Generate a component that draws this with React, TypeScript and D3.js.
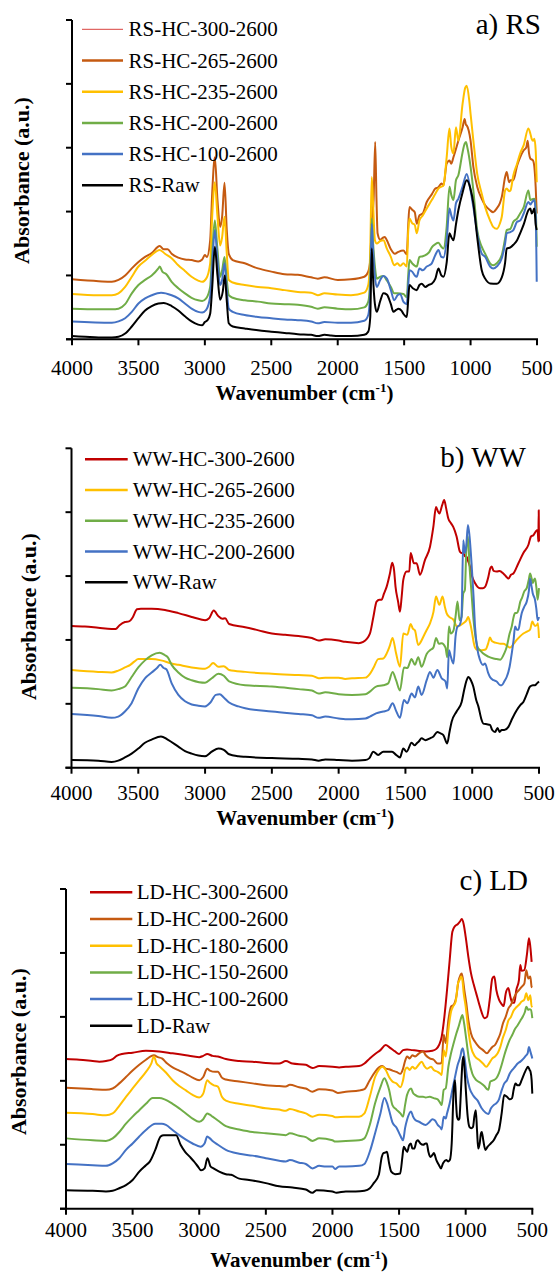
import React from "react";
import * as d3 from "d3";

// FTIR spectra of raw and hydrochar samples (absorbance in arbitrary units, offset per sample)
type Pt = [number, number];

// ---------- a) RS ----------
const rsHC300: Pt[] = [];
const rsHC265: Pt[] = [
  [4000,0.94],[3800,0.91],[3700,0.9],[3650,0.93],[3600,1.0],[3550,1.11],[3500,1.21],[3450,1.29],[3400,1.35],[3340,1.46],[3310,1.41],[3280,1.41],[3250,1.34],[3200,1.28],[3150,1.25],[3100,1.24],[3050,1.22],[3020,1.25],[3000,1.32],[2985,1.29],[2960,1.55],[2945,2.28],[2925,2.85],[2905,2.18],[2885,1.76],[2870,1.92],[2852,2.45],[2835,1.71],[2820,1.34],[2790,1.24],[2700,1.19],[2600,1.11],[2500,1.06],[2400,1.02],[2300,1.01],[2200,0.97],[2150,0.95],[2100,0.97],[2000,0.93],[1900,0.94],[1800,0.98],[1770,1.06],[1755,1.24],[1744,1.86],[1730,2.18],[1718,3.09],[1708,2.18],[1700,1.66],[1680,1.56],[1660,1.59],[1645,1.6],[1630,1.55],[1600,1.41],[1570,1.34],[1543,1.37],[1506,1.39],[1480,1.33],[1470,1.76],[1460,2.07],[1440,2.03],[1420,1.99],[1405,1.81],[1385,1.94],[1360,1.97],[1330,2.15],[1292,2.27],[1265,2.36],[1242,2.38],[1220,2.44],[1204,2.41],[1180,2.75],[1159,2.8],[1145,2.75],[1129,2.85],[1110,2.98],[1092,3.11],[1060,3.32],[1045,3.45],[1035,3.36],[1029,3.35],[1000,3.11],[979,2.7],[950,2.39],[916,2.2],[890,2.1],[853,2.02],[830,1.99],[803,2.05],[780,2.13],[765,2.23],[740,2.54],[728,2.62],[710,2.46],[700,2.49],[678,2.49],[650,2.72],[627,2.85],[600,2.96],[580,3.01],[570,3.11],[560,2.91],[550,2.83],[530,2.8],[520,2.7],[510,2.39],[502,1.97],
];
const rsHC235: Pt[] = [
  [4000,0.71],[3800,0.69],[3700,0.69],[3650,0.72],[3600,0.82],[3550,0.98],[3500,1.14],[3450,1.23],[3400,1.32],[3340,1.4],[3300,1.34],[3250,1.27],[3200,1.16],[3150,1.07],[3100,0.98],[3050,0.92],[3020,0.9],[2990,0.95],[2960,1.19],[2945,1.92],[2925,2.46],[2905,1.92],[2885,1.47],[2870,1.6],[2852,1.92],[2835,1.34],[2820,0.93],[2790,0.89],[2700,0.85],[2600,0.82],[2500,0.8],[2400,0.77],[2300,0.74],[2200,0.73],[2150,0.69],[2100,0.72],[2000,0.7],[1900,0.69],[1800,0.73],[1770,0.85],[1755,1.4],[1744,2.54],[1735,2.18],[1720,1.55],[1706,1.5],[1680,1.54],[1656,1.55],[1630,1.42],[1600,1.29],[1575,1.16],[1550,1.19],[1530,1.15],[1506,1.19],[1480,1.14],[1470,1.66],[1460,1.89],[1440,1.82],[1420,1.79],[1405,1.66],[1385,1.86],[1360,1.94],[1330,2.05],[1292,2.18],[1265,2.28],[1242,2.36],[1220,2.39],[1204,2.41],[1180,2.85],[1159,3.3],[1145,3.01],[1129,2.91],[1110,3.32],[1092,3.11],[1060,3.69],[1040,3.94],[1029,3.97],[1010,3.74],[1000,3.53],[979,3.11],[950,2.59],[916,2.28],[890,2.07],[853,1.86],[830,1.76],[803,1.73],[780,1.81],[765,1.92],[740,2.33],[728,2.36],[710,2.32],[700,2.33],[678,2.57],[650,2.75],[627,2.91],[600,3.04],[565,3.3],[550,3.22],[540,3.14],[530,3.11],[520,3.14],[510,2.96],[502,2.46],
];
const rsHC200: Pt[] = [
  [4000,0.48],[3800,0.47],[3700,0.47],[3650,0.48],[3600,0.55],[3550,0.72],[3500,0.85],[3450,0.93],[3400,1.0],[3350,1.11],[3340,1.14],[3320,1.06],[3290,1.02],[3250,0.9],[3200,0.8],[3150,0.72],[3100,0.65],[3050,0.61],[3020,0.6],[2990,0.64],[2960,0.82],[2945,1.34],[2925,1.86],[2905,1.4],[2885,0.98],[2870,1.08],[2852,1.29],[2835,0.93],[2820,0.69],[2790,0.65],[2700,0.61],[2600,0.59],[2500,0.56],[2400,0.55],[2300,0.54],[2200,0.51],[2150,0.48],[2100,0.5],[2000,0.48],[1900,0.47],[1800,0.5],[1770,0.59],[1755,0.98],[1744,1.89],[1735,1.55],[1720,1.14],[1706,0.95],[1680,0.98],[1656,0.99],[1630,0.92],[1600,0.82],[1575,0.72],[1550,0.72],[1506,0.71],[1480,0.66],[1470,0.98],[1460,1.24],[1440,1.19],[1405,1.14],[1385,1.29],[1360,1.3],[1330,1.33],[1310,1.37],[1292,1.44],[1265,1.49],[1242,1.51],[1220,1.45],[1204,1.42],[1180,1.76],[1159,2.39],[1145,2.26],[1129,2.18],[1110,2.49],[1092,2.57],[1060,2.93],[1045,3.06],[1035,3.09],[1025,3.01],[1000,2.7],[979,2.33],[950,1.71],[916,1.45],[890,1.34],[853,1.19],[830,1.16],[803,1.19],[765,1.32],[740,1.58],[728,1.71],[700,1.73],[678,1.84],[650,1.89],[627,1.97],[600,2.07],[565,2.33],[550,2.18],[540,2.19],[520,2.2],[510,2.07],[502,1.45],
];
const rsHC100: Pt[] = [
  [4000,0.28],[3700,0.26],[3650,0.28],[3600,0.33],[3550,0.43],[3500,0.56],[3450,0.64],[3400,0.69],[3330,0.73],[3250,0.69],[3200,0.64],[3150,0.56],[3100,0.48],[3050,0.43],[3020,0.42],[2990,0.46],[2960,0.67],[2945,1.14],[2925,1.71],[2905,1.24],[2885,0.85],[2870,0.93],[2852,1.19],[2835,0.77],[2820,0.48],[2790,0.43],[2700,0.38],[2600,0.35],[2500,0.33],[2400,0.31],[2300,0.3],[2200,0.28],[2150,0.25],[2100,0.27],[2000,0.26],[1900,0.26],[1800,0.29],[1770,0.38],[1755,0.77],[1744,1.81],[1735,1.45],[1720,0.98],[1706,0.82],[1680,0.93],[1656,0.99],[1630,0.95],[1600,0.77],[1575,0.61],[1550,0.69],[1530,0.71],[1506,0.59],[1480,0.55],[1470,0.82],[1460,1.08],[1440,1.06],[1420,1.0],[1405,0.98],[1385,1.11],[1360,1.08],[1330,1.14],[1310,1.16],[1292,1.19],[1265,1.32],[1242,1.4],[1220,1.29],[1204,1.28],[1180,1.55],[1159,2.05],[1145,1.94],[1129,1.86],[1110,2.13],[1092,2.2],[1060,2.39],[1029,2.59],[1000,2.33],[979,2.07],[950,1.66],[916,1.34],[890,1.29],[853,1.14],[830,1.11],[803,1.14],[765,1.27],[740,1.5],[728,1.66],[700,1.68],[678,1.71],[650,1.84],[627,1.86],[600,1.97],[565,2.15],[550,2.11],[540,2.14],[520,2.18],[510,1.97],[502,0.9],
];
const rsRaw: Pt[] = [
  [4000,0.05],[3900,0.04],[3800,0.03],[3700,0.03],[3650,0.04],[3600,0.09],[3550,0.2],[3500,0.33],[3450,0.45],[3400,0.52],[3350,0.56],[3310,0.57],[3250,0.52],[3200,0.45],[3150,0.36],[3100,0.28],[3050,0.23],[3020,0.22],[3000,0.27],[2980,0.3],[2960,0.4],[2945,0.8],[2925,1.45],[2905,1.0],[2885,0.62],[2865,0.75],[2850,1.0],[2835,0.6],[2820,0.25],[2790,0.2],[2700,0.17],[2600,0.14],[2500,0.12],[2400,0.1],[2300,0.08],[2200,0.07],[2150,0.05],[2100,0.07],[2050,0.06],[2000,0.05],[1900,0.05],[1800,0.07],[1770,0.12],[1755,0.35],[1744,1.42],[1735,1.0],[1720,0.55],[1706,0.43],[1680,0.6],[1656,0.72],[1630,0.7],[1600,0.55],[1581,0.43],[1560,0.46],[1543,0.48],[1520,0.45],[1506,0.4],[1480,0.35],[1470,0.6],[1460,0.85],[1435,0.8],[1405,0.77],[1385,0.85],[1368,0.87],[1340,0.82],[1317,0.85],[1292,0.87],[1265,0.95],[1242,1.11],[1220,1.0],[1204,0.98],[1180,1.2],[1159,1.66],[1145,1.6],[1129,1.55],[1110,1.8],[1092,2.02],[1060,2.3],[1029,2.49],[1000,2.35],[979,2.13],[950,1.6],[916,1.08],[890,0.95],[853,0.875],[803,0.87],[765,0.97],[740,1.2],[728,1.42],[700,1.44],[678,1.48],[650,1.55],[627,1.66],[600,1.8],[565,2.02],[550,2.05],[540,1.97],[530,2.0],[520,2.05],[510,1.8],[502,1.71],
];

// ---------- b) WW ----------
const wwHC300: Pt[] = [
  [4000,2.22],[3900,2.21],[3800,2.19],[3700,2.17],[3670,2.17],[3640,2.23],[3600,2.28],[3570,2.29],[3540,2.36],[3510,2.48],[3480,2.49],[3400,2.49],[3300,2.47],[3200,2.42],[3100,2.36],[3030,2.32],[3000,2.31],[2970,2.34],[2935,2.46],[2900,2.37],[2870,2.33],[2850,2.34],[2820,2.25],[2700,2.2],[2600,2.15],[2500,2.1],[2400,2.08],[2300,2.06],[2200,2.03],[2150,1.99],[2100,2.01],[2000,1.99],[1950,1.97],[1900,1.96],[1850,1.95],[1816,1.97],[1766,2.1],[1740,2.36],[1716,2.6],[1695,2.63],[1679,2.63],[1660,2.73],[1641,2.83],[1616,3.04],[1599,3.21],[1585,3.09],[1574,2.83],[1555,2.6],[1541,2.44],[1528,2.68],[1516,2.94],[1491,3.07],[1471,3.07],[1461,3.36],[1436,3.2],[1416,3.2],[1391,3.02],[1354,3.25],[1316,3.46],[1291,3.77],[1271,4.08],[1256,4.01],[1246,3.98],[1225,4.11],[1210,4.19],[1195,4.06],[1179,3.9],[1160,3.83],[1142,3.77],[1117,3.62],[1092,3.38],[1080,3.36],[1067,3.36],[1055,3.31],[1042,3.3],[1030,3.23],[1017,3.15],[1000,2.99],[979,2.89],[960,2.83],[942,2.81],[920,2.81],[904,2.83],[879,2.99],[865,3.12],[854,3.15],[840,3.08],[817,3.07],[795,3.08],[767,3.04],[745,2.99],[729,2.96],[710,3.02],[692,3.04],[654,3.2],[617,3.36],[579,3.49],[560,3.62],[542,3.64],[520,3.71],[510,3.72],[505,3.54],[502,4.03],[500,3.54],
];
const wwHC265: Pt[] = [
  [4000,1.53],[3800,1.5],[3700,1.49],[3650,1.52],[3600,1.57],[3560,1.61],[3530,1.66],[3500,1.7],[3400,1.7],[3330,1.68],[3250,1.63],[3200,1.61],[3100,1.57],[3000,1.55],[2970,1.58],[2940,1.64],[2900,1.58],[2860,1.59],[2820,1.53],[2700,1.5],[2500,1.47],[2300,1.45],[2200,1.44],[2150,1.4],[2100,1.41],[2000,1.41],[1950,1.39],[1900,1.4],[1800,1.41],[1766,1.47],[1740,1.56],[1704,1.7],[1666,1.71],[1640,1.79],[1620,1.89],[1596,2.03],[1570,1.79],[1541,1.58],[1516,2.1],[1486,2.08],[1461,2.25],[1445,2.18],[1429,2.15],[1404,1.92],[1385,1.97],[1366,2.05],[1340,2.16],[1316,2.26],[1290,2.44],[1271,2.68],[1246,2.55],[1222,2.68],[1205,2.52],[1192,2.42],[1172,2.36],[1142,2.32],[1112,2.21],[1090,2.23],[1067,2.26],[1042,2.31],[1030,2.36],[1015,2.26],[1000,2.1],[990,1.97],[979,1.88],[960,1.84],[929,1.84],[900,1.85],[880,1.95],[867,2.04],[855,1.99],[842,1.97],[810,1.95],[790,1.94],[767,1.94],[740,1.91],[717,1.88],[690,1.94],[667,2.0],[640,2.06],[617,2.1],[590,2.13],[567,2.16],[550,2.29],[540,2.25],[530,2.22],[517,2.23],[508,2.26],[500,2.03],
];
const wwHC235: Pt[] = [
  [4000,1.25],[3800,1.23],[3700,1.21],[3650,1.23],[3600,1.27],[3550,1.42],[3500,1.57],[3450,1.68],[3400,1.76],[3340,1.8],[3300,1.76],[3280,1.73],[3250,1.61],[3200,1.49],[3150,1.41],[3100,1.37],[3000,1.33],[2950,1.4],[2900,1.47],[2860,1.44],[2820,1.35],[2700,1.29],[2500,1.27],[2300,1.23],[2200,1.21],[2150,1.16],[2100,1.18],[2000,1.15],[1900,1.14],[1800,1.15],[1766,1.19],[1720,1.27],[1666,1.29],[1629,1.32],[1596,1.5],[1570,1.37],[1541,1.21],[1511,1.57],[1486,1.56],[1454,1.7],[1429,1.61],[1404,1.73],[1379,1.58],[1341,1.78],[1316,1.84],[1291,1.88],[1270,2.03],[1250,1.94],[1229,1.95],[1200,1.88],[1187,1.73],[1174,2.21],[1160,2.1],[1140,2.15],[1125,2.36],[1110,2.6],[1095,2.31],[1080,2.36],[1067,2.73],[1055,2.78],[1045,3.36],[1032,3.62],[1020,3.15],[1005,2.73],[990,2.31],[979,2.1],[960,1.89],[942,1.84],[920,1.79],[880,1.74],[840,1.71],[817,1.7],[790,1.69],[760,1.79],[742,1.89],[720,2.1],[704,2.21],[690,2.36],[679,2.42],[665,2.42],[654,2.47],[640,2.6],[629,2.65],[610,2.76],[592,2.81],[575,2.96],[567,3.04],[555,2.96],[547,2.89],[538,2.94],[530,2.96],[520,2.83],[510,2.63],[500,2.81],
];
const wwHC200: Pt[] = [
  [4000,0.84],[3800,0.81],[3700,0.78],[3650,0.8],[3600,0.88],[3550,1.01],[3500,1.24],[3450,1.4],[3400,1.49],[3360,1.56],[3335,1.61],[3310,1.56],[3290,1.54],[3250,1.32],[3200,1.14],[3150,1.04],[3100,0.99],[3050,0.97],[3000,0.96],[2960,1.02],[2920,1.14],[2890,1.15],[2860,1.1],[2820,1.02],[2750,0.96],[2700,0.93],[2500,0.88],[2300,0.84],[2200,0.82],[2150,0.78],[2100,0.8],[2000,0.77],[1950,0.76],[1900,0.76],[1800,0.77],[1766,0.8],[1720,0.85],[1666,0.88],[1629,0.9],[1596,1.01],[1570,0.89],[1541,0.78],[1511,1.06],[1486,1.01],[1454,1.16],[1429,1.1],[1404,1.27],[1379,1.14],[1341,1.37],[1316,1.5],[1291,1.41],[1261,1.53],[1229,1.4],[1200,1.35],[1187,1.24],[1174,1.84],[1160,1.74],[1140,1.63],[1125,2.05],[1110,2.21],[1095,2.23],[1080,2.36],[1067,3.56],[1055,3.36],[1045,3.46],[1032,3.8],[1020,3.62],[1005,3.2],[990,2.68],[979,2.21],[960,1.84],[942,1.69],[920,1.61],[904,1.63],[880,1.48],[867,1.42],[840,1.37],[817,1.35],[790,1.29],[779,1.29],[760,1.35],[742,1.42],[720,1.58],[704,1.79],[690,2.0],[679,2.21],[665,2.16],[654,2.16],[640,2.31],[629,2.42],[610,2.52],[592,2.6],[575,2.78],[567,2.96],[555,2.83],[547,2.73],[530,2.63],[520,2.49],[510,2.31],[500,2.36],
];
const wwRaw: Pt[] = [
  [4000,0.12],[3800,0.11],[3700,0.09],[3650,0.11],[3600,0.16],[3550,0.22],[3500,0.3],[3450,0.39],[3400,0.44],[3330,0.49],[3280,0.44],[3200,0.33],[3150,0.26],[3100,0.22],[3050,0.19],[3000,0.18],[2950,0.25],[2900,0.3],[2860,0.28],[2820,0.21],[2750,0.18],[2700,0.17],[2500,0.15],[2300,0.14],[2200,0.13],[2150,0.11],[2100,0.13],[2000,0.12],[1900,0.11],[1800,0.12],[1770,0.15],[1741,0.25],[1704,0.2],[1666,0.25],[1600,0.25],[1570,0.2],[1541,0.16],[1516,0.3],[1491,0.25],[1454,0.39],[1430,0.35],[1416,0.38],[1400,0.41],[1379,0.46],[1350,0.43],[1316,0.46],[1290,0.49],[1261,0.56],[1240,0.54],[1216,0.51],[1187,0.38],[1170,0.56],[1154,0.72],[1117,0.88],[1079,1.03],[1060,1.22],[1045,1.35],[1029,1.42],[1010,1.37],[992,1.27],[970,1.06],[954,0.96],[930,0.75],[917,0.69],[890,0.68],[867,0.67],[850,0.59],[829,0.56],[810,0.62],[795,0.56],[779,0.59],[760,0.59],[729,0.64],[700,0.77],[667,0.9],[640,0.98],[617,1.03],[590,1.16],[567,1.27],[545,1.29],[530,1.29],[515,1.32],[500,1.35],
];

// ---------- c) LD ----------
const ldHC300: Pt[] = [
  [4000,2.34],[3900,2.33],[3800,2.31],[3750,2.3],[3700,2.31],[3650,2.34],[3620,2.39],[3580,2.42],[3500,2.44],[3400,2.47],[3300,2.46],[3200,2.43],[3100,2.4],[3000,2.37],[2970,2.39],[2940,2.42],[2900,2.39],[2860,2.38],[2800,2.34],[2700,2.31],[2600,2.3],[2500,2.28],[2400,2.27],[2350,2.31],[2300,2.27],[2200,2.25],[2150,2.2],[2100,2.23],[2000,2.22],[1950,2.21],[1900,2.22],[1800,2.23],[1760,2.27],[1720,2.35],[1680,2.42],[1640,2.48],[1600,2.56],[1570,2.52],[1530,2.46],[1500,2.42],[1470,2.48],[1440,2.49],[1400,2.48],[1360,2.47],[1300,2.46],[1250,2.47],[1220,2.5],[1200,2.56],[1180,2.69],[1160,3.0],[1140,3.42],[1120,3.89],[1100,4.33],[1080,4.42],[1060,4.45],[1040,4.5],[1030,4.53],[1015,4.45],[1000,4.25],[980,3.94],[960,3.68],[940,3.51],[920,3.36],[900,3.21],[880,3.07],[860,2.98],[840,3.0],[820,3.26],[800,3.6],[785,3.63],[770,3.42],[750,3.27],[730,3.2],[715,3.17],[700,3.36],[680,3.45],[665,3.32],[650,3.22],[635,3.22],[620,3.42],[600,3.58],[590,3.81],[580,3.72],[560,3.73],[540,3.98],[525,4.23],[515,4.1],[505,3.86],
];
const ldHC200: Pt[] = [
  [4000,1.89],[3800,1.87],[3700,1.86],[3650,1.88],[3600,1.96],[3550,2.06],[3500,2.16],[3450,2.25],[3400,2.33],[3340,2.4],[3310,2.37],[3280,2.35],[3240,2.27],[3200,2.21],[3150,2.16],[3100,2.11],[3050,2.05],[3000,2.01],[2970,2.06],[2940,2.19],[2920,2.16],[2880,2.14],[2860,2.14],[2830,2.05],[2800,2.02],[2700,1.99],[2600,1.96],[2500,1.93],[2400,1.92],[2350,1.91],[2320,1.94],[2250,1.9],[2200,1.88],[2150,1.83],[2100,1.87],[2000,1.85],[1960,1.81],[1900,1.83],[1800,1.85],[1760,1.87],[1720,2.01],[1680,2.14],[1650,2.21],[1625,2.23],[1600,2.19],[1575,2.18],[1550,2.16],[1520,2.14],[1490,2.11],[1470,2.19],[1455,2.31],[1440,2.38],[1420,2.35],[1400,2.4],[1380,2.38],[1350,2.43],[1320,2.46],[1300,2.4],[1270,2.35],[1240,2.33],[1210,2.27],[1190,2.27],[1180,2.29],[1165,2.72],[1150,2.59],[1130,2.95],[1110,3.16],[1090,3.19],[1070,3.32],[1055,3.55],[1040,3.65],[1030,3.68],[1020,3.58],[1010,3.42],[995,3.21],[980,2.95],[960,2.74],[930,2.61],[900,2.53],[870,2.48],[840,2.43],[820,2.48],[800,2.53],[780,2.56],[760,2.64],[740,2.74],[720,2.9],[700,3.0],[680,3.13],[660,3.19],[640,3.29],[620,3.37],[600,3.42],[580,3.47],[560,3.52],[545,3.73],[530,3.6],[515,3.63],[505,3.47],[500,3.46],
];
const ldHC180: Pt[] = [
  [4000,1.5],[3800,1.48],[3700,1.46],[3650,1.49],[3600,1.61],[3550,1.75],[3500,1.88],[3450,2.01],[3400,2.14],[3360,2.27],[3340,2.38],[3320,2.27],[3300,2.23],[3250,2.13],[3200,2.01],[3150,1.92],[3100,1.85],[3050,1.78],[3000,1.74],[2970,1.8],[2940,2.01],[2920,1.97],[2890,1.93],[2860,1.91],[2830,1.75],[2800,1.69],[2700,1.64],[2600,1.61],[2500,1.57],[2400,1.55],[2350,1.53],[2320,1.56],[2250,1.52],[2200,1.49],[2150,1.44],[2100,1.47],[2000,1.45],[1980,1.43],[1900,1.44],[1800,1.44],[1760,1.49],[1720,1.75],[1680,2.06],[1650,2.18],[1625,2.22],[1600,2.17],[1575,2.06],[1550,1.99],[1520,1.96],[1490,1.9],[1470,2.01],[1455,2.17],[1440,2.21],[1420,2.17],[1400,2.22],[1380,2.19],[1350,2.26],[1330,2.3],[1310,2.23],[1290,2.19],[1260,2.22],[1240,2.17],[1210,2.14],[1190,2.11],[1180,2.09],[1165,2.48],[1150,2.38],[1130,2.79],[1110,3.08],[1095,3.16],[1075,3.24],[1058,3.52],[1045,3.58],[1035,3.63],[1025,3.58],[1015,3.37],[1000,3.16],[980,2.79],[960,2.53],[930,2.38],[900,2.33],[870,2.27],[845,2.22],[825,2.27],[800,2.35],[780,2.38],[760,2.43],[740,2.53],[720,2.68],[700,2.79],[680,2.94],[660,3.0],[640,3.1],[620,3.15],[600,3.19],[580,3.24],[560,3.27],[545,3.37],[530,3.26],[515,3.34],[505,3.16],[500,3.17],
];
const ldHC150: Pt[] = [
  [4000,1.1],[3800,1.07],[3700,1.06],[3650,1.1],[3600,1.2],[3550,1.33],[3500,1.44],[3450,1.54],[3400,1.64],[3350,1.73],[3300,1.73],[3260,1.71],[3200,1.64],[3150,1.57],[3100,1.49],[3050,1.41],[3000,1.36],[2970,1.4],[2940,1.49],[2920,1.47],[2900,1.44],[2860,1.38],[2800,1.29],[2700,1.24],[2600,1.2],[2500,1.18],[2400,1.16],[2350,1.15],[2320,1.18],[2250,1.14],[2200,1.12],[2150,1.06],[2100,1.1],[2000,1.07],[1980,1.05],[1900,1.06],[1800,1.07],[1760,1.1],[1720,1.31],[1680,1.65],[1640,1.9],[1610,2.04],[1590,1.96],[1575,1.86],[1550,1.62],[1520,1.55],[1490,1.49],[1470,1.44],[1455,1.62],[1440,1.78],[1410,1.88],[1395,1.81],[1380,1.78],[1350,1.75],[1320,1.75],[1300,1.74],[1270,1.75],[1240,1.73],[1210,1.71],[1190,1.65],[1180,1.62],[1165,1.86],[1150,1.88],[1130,2.22],[1110,2.43],[1090,2.59],[1070,2.74],[1050,2.87],[1035,2.98],[1025,3.03],[1012,2.9],[995,2.64],[975,2.33],[950,2.11],[920,2.01],[890,1.97],[860,1.92],[840,1.87],[830,1.86],[815,1.99],[790,2.01],[770,2.04],[750,2.12],[730,2.25],[710,2.4],[690,2.53],[670,2.64],[650,2.72],[630,2.81],[610,2.87],[590,2.94],[570,3.01],[555,3.08],[545,3.16],[530,3.11],[520,3.12],[510,3.11],[500,2.98],
];
const ldHC100: Pt[] = [
  [4000,0.7],[3800,0.68],[3700,0.67],[3650,0.71],[3600,0.79],[3550,0.92],[3500,1.02],[3450,1.13],[3400,1.23],[3330,1.33],[3280,1.33],[3250,1.31],[3200,1.23],[3150,1.15],[3100,1.08],[3050,1.02],[2990,0.97],[2960,1.02],[2940,1.13],[2920,1.1],[2900,1.06],[2860,1.0],[2800,0.92],[2700,0.86],[2600,0.83],[2500,0.79],[2400,0.75],[2350,0.74],[2320,0.76],[2250,0.72],[2200,0.7],[2150,0.63],[2100,0.67],[2050,0.66],[2000,0.66],[1980,0.62],[1950,0.66],[1900,0.66],[1800,0.67],[1760,0.7],[1720,0.89],[1680,1.18],[1640,1.49],[1610,1.73],[1590,1.65],[1575,1.54],[1550,1.35],[1520,1.27],[1490,1.14],[1470,1.07],[1455,1.26],[1440,1.39],[1410,1.52],[1395,1.44],[1380,1.39],[1350,1.36],[1300,1.31],[1270,1.36],[1250,1.4],[1230,1.38],[1210,1.31],[1190,1.27],[1180,1.24],[1165,1.44],[1150,1.41],[1140,1.49],[1120,1.65],[1100,1.86],[1080,2.06],[1060,2.25],[1040,2.38],[1030,2.48],[1022,2.51],[1010,2.38],[990,2.06],[970,1.88],[940,1.76],[910,1.69],[880,1.57],[850,1.5],[830,1.48],[810,1.57],[790,1.62],[770,1.65],[750,1.71],[730,1.85],[710,1.96],[690,2.01],[670,2.11],[650,2.17],[630,2.22],[610,2.27],[590,2.3],[570,2.34],[550,2.39],[535,2.43],[525,2.53],[515,2.46],[505,2.39],[500,2.35],
];
const ldRaw: Pt[] = [
  [4000,0.29],[3800,0.28],[3700,0.27],[3650,0.28],[3600,0.32],[3550,0.37],[3500,0.45],[3450,0.58],[3400,0.68],[3370,0.74],[3330,0.92],[3290,1.13],[3266,1.15],[3220,1.15],[3173,1.15],[3140,1.0],[3106,0.89],[3070,0.81],[3040,0.74],[3010,0.66],[2986,0.6],[2960,0.63],[2938,0.79],[2915,0.66],[2893,0.63],[2850,0.58],[2800,0.54],[2760,0.53],[2700,0.47],[2626,0.45],[2500,0.4],[2400,0.35],[2300,0.33],[2200,0.3],[2150,0.25],[2120,0.29],[2050,0.28],[2000,0.27],[1970,0.25],[1900,0.27],[1826,0.27],[1760,0.28],[1719,0.32],[1690,0.4],[1652,0.53],[1630,0.81],[1618,0.87],[1600,0.88],[1591,0.89],[1575,0.71],[1559,0.58],[1530,0.54],[1492,0.55],[1475,0.81],[1465,0.97],[1450,0.92],[1439,0.89],[1425,0.99],[1412,1.02],[1400,0.94],[1386,0.94],[1370,1.05],[1359,1.07],[1340,1.02],[1319,1.0],[1300,1.02],[1292,1.02],[1280,0.89],[1265,0.81],[1250,0.84],[1239,0.87],[1220,0.76],[1200,0.68],[1186,0.63],[1170,0.71],[1146,0.76],[1130,0.74],[1119,0.76],[1105,1.02],[1090,1.86],[1080,2.01],[1072,1.65],[1065,1.44],[1055,1.39],[1047,1.41],[1040,1.65],[1033,1.96],[1025,2.27],[1017,2.38],[1008,2.17],[999,1.86],[985,1.44],[972,1.28],[958,1.26],[945,1.28],[935,1.44],[924,1.54],[915,1.23],[906,0.94],[895,1.02],[885,1.18],[879,1.2],[868,1.07],[852,0.92],[835,0.97],[812,1.02],[790,1.07],[770,1.15],[750,1.23],[730,1.49],[711,1.78],[690,1.75],[670,1.71],[652,1.73],[640,1.86],[626,1.96],[612,1.93],[599,1.93],[580,2.01],[559,2.12],[540,2.2],[532,2.22],[520,2.17],[513,2.14],[505,2.01],[500,1.8],
];

// Axis values
const xTickValues = [4000, 3500, 3000, 2500, 2000, 1500, 1000, 500];
const yTickValues = [0, 1, 2, 3, 4, 5];

const RED = "#C00000";
const ORANGE = "#C55A11";
const GOLD = "#FFC000";
const GREEN = "#70AD47";
const BLUE = "#4472C4";
const BLACK = "#000000";

interface Series { name: string; color: string; data: Pt[]; legendWidth?: number }

const seriesA: Series[] = [
  { name: "RS-HC-300-2600", color: "#D9423E", data: rsHC300, legendWidth: 1 },
  { name: "RS-HC-265-2600", color: ORANGE, data: rsHC265 },
  { name: "RS-HC-235-2600", color: GOLD, data: rsHC235 },
  { name: "RS-HC-200-2600", color: GREEN, data: rsHC200 },
  { name: "RS-HC-100-2600", color: BLUE, data: rsHC100 },
  { name: "RS-Raw", color: BLACK, data: rsRaw },
];
const seriesB: Series[] = [
  { name: "WW-HC-300-2600", color: RED, data: wwHC300 },
  { name: "WW-HC-265-2600", color: GOLD, data: wwHC265 },
  { name: "WW-HC-235-2600", color: GREEN, data: wwHC235 },
  { name: "WW-HC-200-2600", color: BLUE, data: wwHC200 },
  { name: "WW-Raw", color: BLACK, data: wwRaw },
];
const seriesC: Series[] = [
  { name: "LD-HC-300-2600", color: RED, data: ldHC300 },
  { name: "LD-HC-200-2600", color: ORANGE, data: ldHC200 },
  { name: "LD-HC-180-2600", color: GOLD, data: ldHC180 },
  { name: "LD-HC-150-2600", color: GREEN, data: ldHC150 },
  { name: "LD-HC-100-2600", color: BLUE, data: ldHC100 },
  { name: "LD-Raw", color: BLACK, data: ldRaw },
];

interface PanelLayout {
  title: string;
  series: Series[];
  x0: number; x1: number; yBottom: number; yTop: number;
  tickLabelY: number; axisTitleY: number;
  yTitleX: number; yTitleY: number;
  legLineX0: number; legLineX1: number; legTextX: number; legY0: number; legStep: number;
  labelX: number; labelY: number;
}

const panels: PanelLayout[] = [
  { title: "a) RS", series: seriesA, x0: 72, x1: 537, yBottom: 339.3, yTop: 20,
    tickLabelY: 375, axisTitleY: 400, yTitleX: 29, yTitleY: 180.5,
    legLineX0: 82, legLineX1: 123, legTextX: 128.5, legY0: 29.3, legStep: 31.2,
    labelX: 541, labelY: 34 },
  { title: "b) WW", series: seriesB, x0: 71.5, x1: 539, yBottom: 767.7, yTop: 448.3,
    tickLabelY: 800, axisTitleY: 825, yTitleX: 35.5, yTitleY: 616.7,
    legLineX0: 85, legLineX1: 127.7, legTextX: 132.7, legY0: 459.3, legStep: 30.75,
    labelX: 526, labelY: 467 },
  { title: "c) LD", series: seriesC, x0: 66, x1: 532.3, yBottom: 1208.7, yTop: 889,
    tickLabelY: 1236.7, axisTitleY: 1267, yTitleX: 25.5, yTitleY: 1051.7,
    legLineX0: 90, legLineX1: 132.3, legTextX: 136.7, legY0: 892.3, legStep: 26.7,
    labelX: 528, labelY: 890 },
];

const FONT = "'Liberation Serif', 'Times New Roman', Times, serif";

function Panel({ p }: { p: PanelLayout }) {
  const x = d3.scaleLinear().domain([4000, 500]).range([p.x0, p.x1]);
  const y = d3.scaleLinear().domain([0, 5]).range([p.yBottom, p.yTop]);
  const line = d3.line<Pt>()
    .x((d) => x(d[0]))
    .y((d) => y(d[1]))
    .curve(d3.curveMonotoneX);
  return (
    <g>
      {p.series.map((s) =>
        s.data.length ? (
          <path key={s.name} d={line(s.data) || ""} fill="none" stroke={s.color}
            strokeWidth={2} strokeLinejoin="round" />
        ) : null
      )}
      {/* y axis */}
      <line x1={p.x0} x2={p.x0} y1={y(5)} y2={y(0)} stroke="#000" strokeWidth={2} />
      {yTickValues.map((t) => (
        <line key={t} x1={p.x0 - 6} x2={p.x0} y1={y(t)} y2={y(t)} stroke="#000" strokeWidth={2} />
      ))}
      {/* x axis */}
      <line x1={p.x0 - 6} x2={p.x1 + 1} y1={p.yBottom} y2={p.yBottom} stroke="#000" strokeWidth={2} />
      {xTickValues.map((t) => (
        <g key={t}>
          <line x1={x(t)} x2={x(t)} y1={p.yBottom} y2={p.yBottom + 6} stroke="#000" strokeWidth={2} />
          <text x={x(t)} y={p.tickLabelY} textAnchor="middle" fontSize={21} fontFamily={FONT}>{t}</text>
        </g>
      ))}
      <text x={(p.x0 + p.x1) / 2} y={p.axisTitleY} textAnchor="middle" fontSize={21}
        fontWeight="bold" fontFamily={FONT}>
        Wavenumber (cm<tspan fontSize={13} dy={-8}>-1</tspan><tspan dy={8}>)</tspan>
      </text>
      <text transform={`translate(${p.yTitleX},${p.yTitleY}) rotate(-90)`} textAnchor="middle"
        fontSize={22} fontWeight="bold" fontFamily={FONT}>Absorbance (a.u.)</text>
      {/* legend */}
      {p.series.map((s, i) => {
        const cy = p.legY0 + i * p.legStep;
        return (
          <g key={s.name}>
            <line x1={p.legLineX0} x2={p.legLineX1} y1={cy} y2={cy} stroke={s.color}
              strokeWidth={s.legendWidth ?? 2.5} />
            <text x={p.legTextX} y={cy + 7} fontSize={21} fontFamily={FONT}>{s.name}</text>
          </g>
        );
      })}
      <text x={p.labelX} y={p.labelY} textAnchor="end" fontSize={29} fontFamily={FONT}>{p.title}</text>
    </g>
  );
}

export default function App() {
  return (
    <svg width={557} height={1277} style={{ position: "absolute", left: 0, top: 0, background: "#fff" }}>
      <rect width={557} height={1277} fill="#fff" />
      {panels.map((p) => <Panel key={p.title} p={p} />)}
    </svg>
  );
}
